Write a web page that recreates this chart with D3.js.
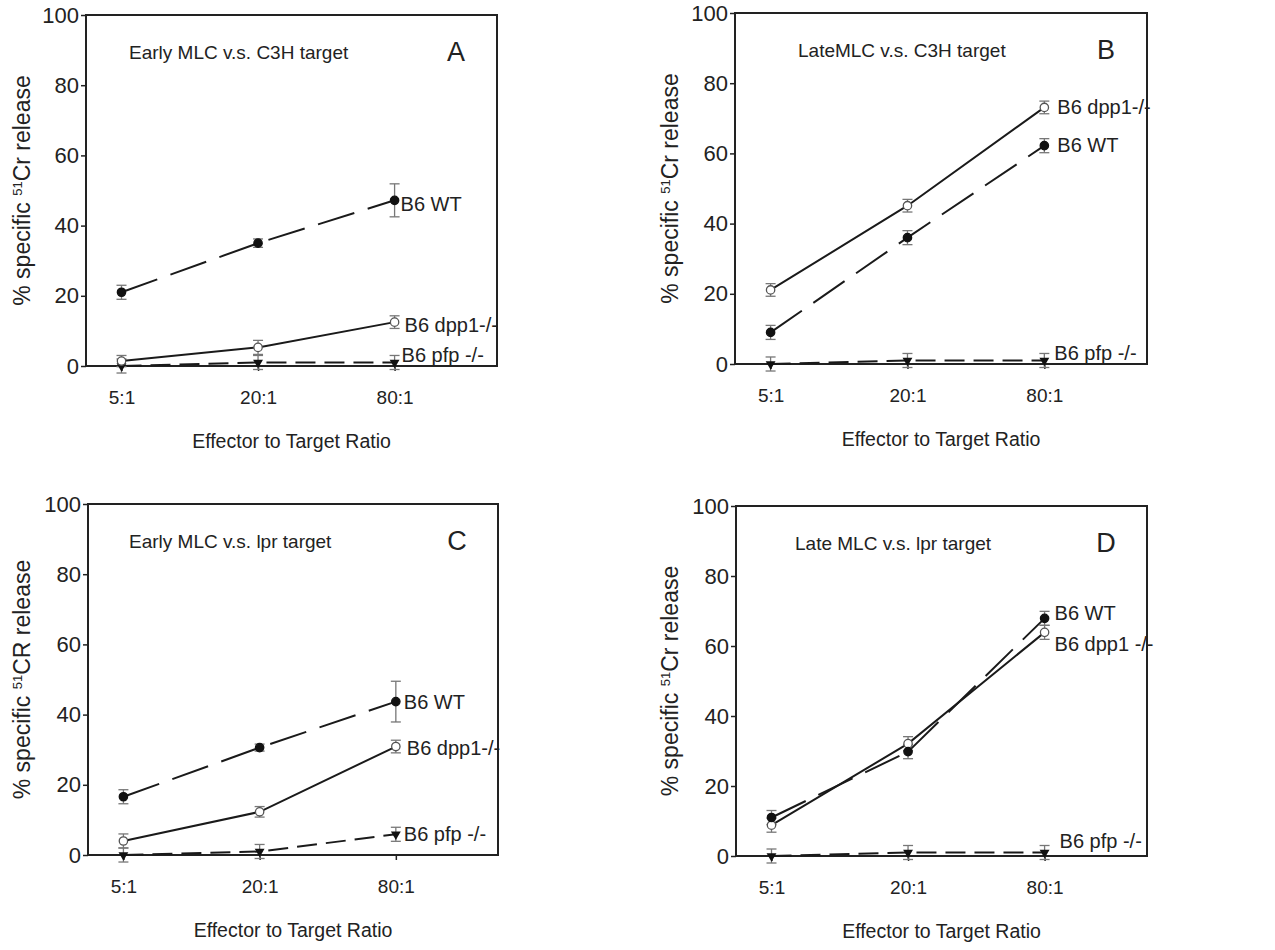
<!DOCTYPE html>
<html>
<head>
<meta charset="utf-8">
<script src="https://d3js.org/d3.v7.min.js"></script>
<style>
  body { margin: 0; background: #fff; }
  text { font-family: "Liberation Sans", Arial, sans-serif; fill: #222; }
</style>
</head>
<body>
<div id="chart"></div>
<script>
// categories and ticks
var ratios = ["5:1", "20:1", "80:1"];
var yTicks = [0, 20, 40, 60, 80, 100];

// panel A - early MLC vs C3H
var wtA = [21, 35, 47.2], wtErrA = [2, 1.2, 4.7];
var dppA = [1.4, 5.3, 12.5], dppErrA = [1.6, 2, 1.8];
var pfpA = [0, 1, 1], pfpErrA = [2, 2, 2];

// panel B - late MLC vs C3H
var wtB = [9, 36, 62.2], wtErrB = [2, 2, 2];
var dppB = [21.1, 45.1, 73.1], dppErrB = [1.8, 1.8, 1.8];
var pfpB = [0, 1, 1], pfpErrB = [2, 2, 2];

// panel C - early MLC vs lpr
var wtC = [16.6, 30.6, 43.7], wtErrC = [2, 1, 5.8];
var dppC = [4, 12.3, 30.9], dppErrC = [2, 1.5, 1.8];
var pfpC = [0, 1, 5.9], pfpErrC = [2, 2, 2];

// panel D - late MLC vs lpr
var wtD = [11, 29.8, 67.9], wtErrD = [2, 2, 2];
var dppD = [8.8, 32.1, 63.9], dppErrD = [2, 2, 2];
var pfpD = [0, 1, 1], pfpErrD = [2, 2, 2];

var panels = [
  { letter: "A", title: "Early MLC v.s. C3H target", ylab: "Cr release",
    wt: wtA, wtErr: wtErrA, dpp: dppA, dppErr: dppErrA, pfp: pfpA, pfpErr: pfpErrA,
    dppLabel: "B6 dpp1-/-",
    box: { left: 86, top: 15, right: 497, bottom: 366 }, yLabX: 22, titleDx: 43,
    labWT: [6, 4], labDpp: [10, 3], labPfp: [7, -7] },
  { letter: "B", title: "LateMLC v.s. C3H target", ylab: "Cr release",
    wt: wtB, wtErr: wtErrB, dpp: dppB, dppErr: dppErrB, pfp: pfpB, pfpErr: pfpErrB,
    dppLabel: "B6 dpp1-/-",
    box: { left: 735, top: 13, right: 1147, bottom: 364 }, yLabX: 670, titleDx: 63,
    labWT: [13, -1], labDpp: [13, 0], labPfp: [10, -7] },
  { letter: "C", title: "Early MLC v.s. lpr target", ylab: "CR release",
    wt: wtC, wtErr: wtErrC, dpp: dppC, dppErr: dppErrC, pfp: pfpC, pfpErr: pfpErrC,
    dppLabel: "B6 dpp1-/-",
    box: { left: 88, top: 504, right: 498, bottom: 855 }, yLabX: 22, titleDx: 41,
    labWT: [8, 0], labDpp: [11, 1.5], labPfp: [8, 0] },
  { letter: "D", title: "Late MLC v.s. lpr target", ylab: "Cr release",
    wt: wtD, wtErr: wtErrD, dpp: dppD, dppErr: dppErrD, pfp: pfpD, pfpErr: pfpErrD,
    dppLabel: "B6 dpp1 -/-",
    box: { left: 736, top: 506, right: 1147, bottom: 856 }, yLabX: 670, titleDx: 59,
    labWT: [10, -5], labDpp: [10, 12], labPfp: [15, -12] }
];

var svg = d3.select("#chart").append("svg")
  .attr("width", 1275)
  .attr("height", 950);

panels.forEach(function (p) {
  var b = p.box;
  var x = d3.scaleLinear().domain([-0.26, 2.75]).range([b.left, b.right]);
  var y = d3.scaleLinear().domain([0, 100]).range([b.bottom, b.top]);

  var g = svg.append("g");

  // y axis
  var yAxis = g.append("g")
    .attr("transform", "translate(" + b.left + ",0)")
    .call(d3.axisLeft(y).tickValues(yTicks).tickSize(5).tickPadding(2).tickSizeOuter(0));
  yAxis.selectAll("text").style("font-size", "22px").style("font-family", "Liberation Sans, Arial, sans-serif").attr("fill", "#222");

  // x axis
  var xAxis = g.append("g")
    .attr("transform", "translate(0," + b.bottom + ")")
    .call(d3.axisBottom(x).tickValues([0, 1, 2]).tickFormat(function (d) { return ratios[d]; })
      .tickSize(5).tickPadding(20).tickSizeOuter(0));
  xAxis.selectAll("text").style("font-size", "19px").style("font-family", "Liberation Sans, Arial, sans-serif").attr("fill", "#222");
  g.selectAll(".domain").remove();
  g.selectAll(".tick line").attr("stroke", "#222").attr("stroke-width", 1.5);

  // frame
  g.append("rect")
    .attr("x", b.left).attr("y", b.top)
    .attr("width", b.right - b.left).attr("height", b.bottom - b.top)
    .attr("fill", "none").attr("stroke", "#222").attr("stroke-width", 2);

  // y label
  var yl = g.append("text")
    .attr("transform", "translate(" + p.yLabX + "," + ((b.top + b.bottom) / 2) + ") rotate(-90)")
    .attr("text-anchor", "middle")
    .attr("dy", "0.35em")
    .style("font-size", "23px");
  yl.append("tspan").text("% specific ");
  yl.append("tspan").text("51").style("font-size", "13px").attr("dy", "-0.6em");
  yl.append("tspan").text(p.ylab).attr("dy", "0.35em");

  // x label
  g.append("text")
    .attr("x", (b.left + b.right) / 2)
    .attr("y", b.bottom + 82)
    .attr("text-anchor", "middle")
    .style("font-size", "19.5px")
    .text("Effector to Target Ratio");

  // inner title and letter
  g.append("text")
    .attr("x", b.left + p.titleDx)
    .attr("y", b.top + 44)
    .style("font-size", "19px")
    .text(p.title);
  g.append("text")
    .attr("x", b.right - 41)
    .attr("y", b.top + 46)
    .attr("text-anchor", "middle")
    .style("font-size", "27px")
    .text(p.letter);

  var series = [
    { vals: p.pfp, err: p.pfpErr, dash: "20,9", mark: "tri", label: "B6 pfp -/-", off: p.labPfp },
    { vals: p.dpp, err: p.dppErr, dash: null, mark: "open", label: p.dppLabel, off: p.labDpp },
    { vals: p.wt, err: p.wtErr, dash: "38,14", mark: "fill", label: "B6 WT", off: p.labWT }
  ];

  var line = d3.line()
    .x(function (d, i) { return x(i); })
    .y(function (d) { return y(d); });

  series.forEach(function (s) {
    // error bars
    var eb = g.append("g").selectAll("g").data(s.vals).join("g");
    eb.append("line")
      .attr("x1", function (d, i) { return x(i); })
      .attr("x2", function (d, i) { return x(i); })
      .attr("y1", function (d, i) { return y(d + s.err[i]); })
      .attr("y2", function (d, i) { return y(d - s.err[i]); })
      .attr("stroke", "#777").attr("stroke-width", 1.3);
    [1, -1].forEach(function (sg) {
      eb.append("line")
        .attr("x1", function (d, i) { return x(i) - 5; })
        .attr("x2", function (d, i) { return x(i) + 5; })
        .attr("y1", function (d, i) { return y(d + sg * s.err[i]); })
        .attr("y2", function (d, i) { return y(d + sg * s.err[i]); })
        .attr("stroke", "#777").attr("stroke-width", 1.3);
    });

    g.append("path")
      .datum(s.vals)
      .attr("d", line)
      .attr("fill", "none")
      .attr("stroke", "#1a1a1a")
      .attr("stroke-width", 2)
      .attr("stroke-dasharray", s.dash);
  });

  series.forEach(function (s) {
    var m = g.append("g").selectAll("path").data(s.vals).join("path");
    if (s.mark === "tri") {
      m.attr("d", d3.symbol(d3.symbolTriangle, 42))
        .attr("transform", function (d, i) { return "translate(" + x(i) + "," + y(d) + ") rotate(180)"; })
        .attr("fill", "#111");
    } else {
      m.attr("d", d3.symbol(d3.symbolCircle, 55))
        .attr("transform", function (d, i) { return "translate(" + x(i) + "," + y(d) + ")"; })
        .attr("fill", s.mark === "open" ? "#fff" : "#111")
        .attr("stroke", s.mark === "open" ? "#555" : "#111")
        .attr("stroke-width", 1.3);
    }

    g.append("text")
      .attr("x", x(2) + s.off[0])
      .attr("y", y(s.vals[2]) + s.off[1])
      .attr("dy", "0.35em")
      .style("font-size", "20px")
      .text(s.label);
  });
});
</script>
</body>
</html>
